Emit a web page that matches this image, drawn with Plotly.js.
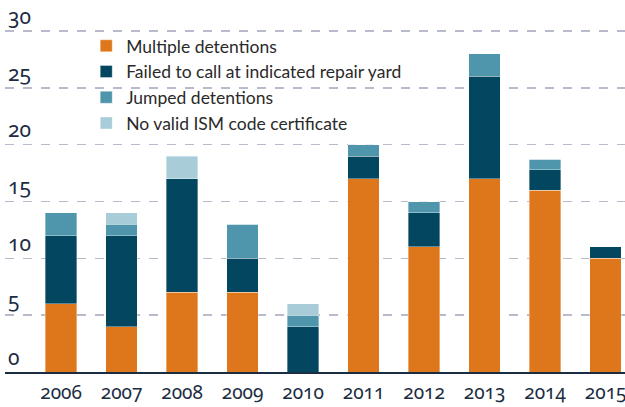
<!DOCTYPE html>
<html>
<head>
<meta charset="utf-8">
<script src="https://cdn.plot.ly/plotly-3.0.1.min.js"></script>
<style>
html,body{margin:0;padding:0;background:#fff;}
#chart{width:625px;height:407px;}
.xtick text,.ytick text{font-variant-numeric:oldstyle-nums;font-feature-settings:"onum" 1;}
</style>
</head>
<body>
<div id="chart"></div>
<script>
const years = ['2006','2007','2008','2009','2010','2011','2012','2013','2014','2015'];
const multipleDetentions = [6, 4, 7, 7, 0, 17, 11, 17, 16, 10];
const failedToCall = [6, 8, 10, 3, 4, 2, 3, 9, 1.8, 1];
const jumpedDetentions = [2, 1, 0, 3, 1, 1, 1, 2, 0.9, 0];
const noValidISM = [0, 1, 2, 0, 1, 0, 0, 0, 0, 0];
const seriesNames = ['Multiple detentions', 'Failed to call at indicated repair yard', 'Jumped detentions', 'No valid ISM code certificate'];
const seriesColors = ['#DE771C', '#02465F', '#4F95AB', '#A8CDD8'];
const yTicks = [0, 5, 10, 15, 20, 25, 30];

const values = [multipleDetentions, failedToCall, jumpedDetentions, noValidISM];
const traces = values.map((v, i) => ({
  type: 'bar',
  x: years,
  y: v,
  name: seriesNames[i],
  marker: {color: seriesColors[i], line: {color: 'rgba(255,255,255,0.45)', width: 0.8}},
  hoverinfo: 'x+y+name'
}));

const layout = {
  width: 625, height: 407,
  margin: {l: 5, r: 0, t: 0, b: 35, pad: 0},
  paper_bgcolor: '#fff', plot_bgcolor: '#fff',
  barmode: 'stack',
  bargap: 0.48,
  font: {family: 'Lato, "Open Sans", sans-serif', color: '#1c2c42'},
  xaxis: {
    type: 'category',
    range: [-0.926, 9.32],
    showgrid: false,
    showline: true, linecolor: '#1c2c42', linewidth: 1.5,
    ticks: '', ticklabelstandoff: 3,
    tickfont: {family: '"Noto Sans", Lato, sans-serif', size: 19, color: '#1c2c42'},
    fixedrange: true
  },
  yaxis: {
    range: [0, 32.73],
    tickvals: yTicks,
    ticktext: yTicks.map(String),
    ticklabelposition: 'inside top',
    showgrid: true, gridcolor: '#b8bbcc', griddash: 'dash', gridwidth: 1.5,
    zeroline: false, showline: false, ticks: '',
    tickfont: {family: '"Noto Sans", Lato, sans-serif', size: 21, color: '#1c2c42'},
    fixedrange: true
  },
  showlegend: true,
  legend: {
    x: 0.131, xanchor: 'left', y: 0.925, yanchor: 'top',
    traceorder: 'normal',
    bgcolor: 'rgba(0,0,0,0)',
    font: {size: 17.5, color: '#2a2a2a'},
    itemclick: false, itemdoubleclick: false
  }
};

Plotly.newPlot('chart', traces, layout, {displayModeBar: false, staticPlot: true});
</script>
</body>
</html>
